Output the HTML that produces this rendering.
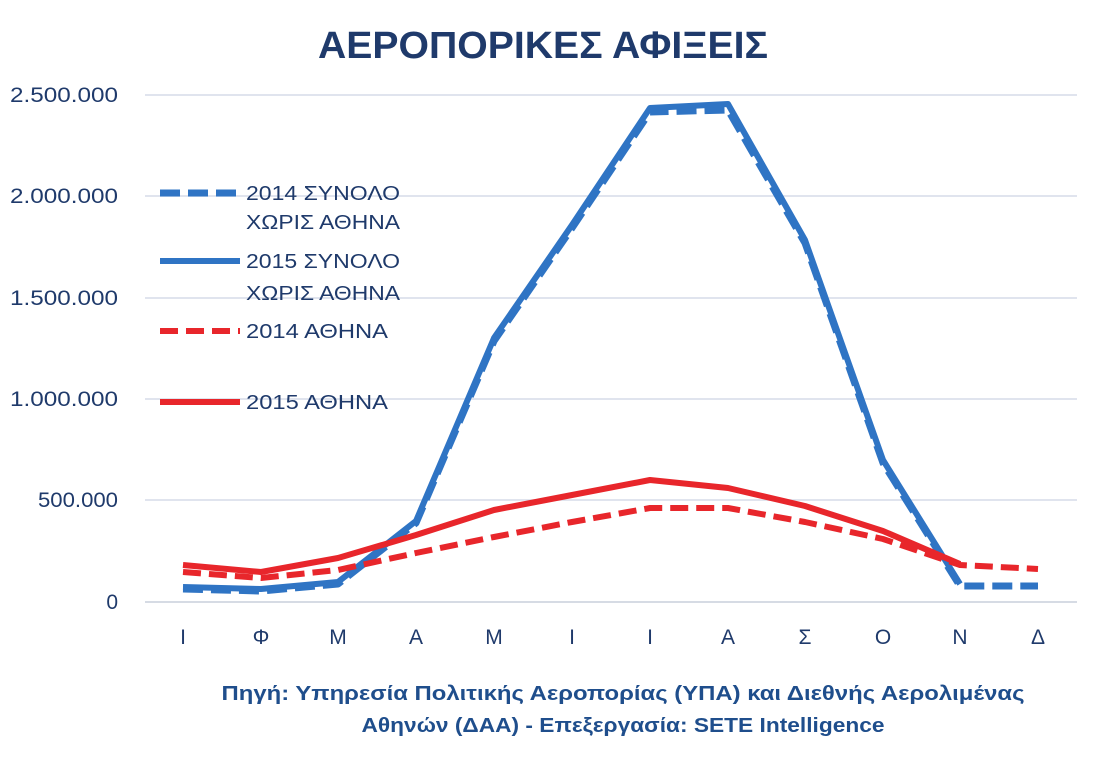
<!DOCTYPE html>
<html><head><meta charset="utf-8"><style>
body{margin:0;background:#fff;}
svg{display:block;font-family:"Liberation Sans","DejaVu Sans",sans-serif;}
</style></head><body>
<svg width="1099" height="762" viewBox="0 0 1099 762">
<rect width="1099" height="762" fill="#fff"/>
<text x="543" y="58" text-anchor="middle" font-size="38" font-weight="bold" fill="#1f3a6b" textLength="450" lengthAdjust="spacingAndGlyphs">ΑΕΡΟΠΟΡΙΚΕΣ ΑΦΙΞΕΙΣ</text>
<g stroke="#d6dce8" stroke-width="1.5">
<line x1="145" y1="95" x2="1077" y2="95"/>
<line x1="145" y1="196" x2="1077" y2="196"/>
<line x1="145" y1="298" x2="1077" y2="298"/>
<line x1="145" y1="399" x2="1077" y2="399"/>
<line x1="145" y1="500" x2="1077" y2="500"/>
<line x1="145" y1="602" x2="1077" y2="602" stroke="#c8cfdc"/>
</g>
<g font-size="21" fill="#1f3a6b" text-anchor="end">
<text x="118" y="102" textLength="108" lengthAdjust="spacingAndGlyphs">2.500.000</text>
<text x="118" y="203" textLength="108" lengthAdjust="spacingAndGlyphs">2.000.000</text>
<text x="118" y="305" textLength="108" lengthAdjust="spacingAndGlyphs">1.500.000</text>
<text x="118" y="406" textLength="108" lengthAdjust="spacingAndGlyphs">1.000.000</text>
<text x="118" y="507" textLength="80" lengthAdjust="spacingAndGlyphs">500.000</text>
<text x="118" y="609">0</text>
</g>
<g font-size="21" fill="#1f3a6b" text-anchor="middle">
<text x="183" y="644">Ι</text><text x="261" y="644">Φ</text><text x="338" y="644">Μ</text>
<text x="416" y="644">Α</text><text x="494" y="644">Μ</text><text x="572" y="644">Ι</text>
<text x="650" y="644">Ι</text><text x="728" y="644">Α</text><text x="805" y="644">Σ</text>
<text x="883" y="644">Ο</text><text x="960" y="644">Ν</text><text x="1038" y="644">Δ</text>
</g>
<g fill="none" stroke-linejoin="round">
<polyline stroke="#2f74c4" stroke-width="7" stroke-dasharray="20,8" points="183,589 261,591 338,584 416,523 494,341 572,228 650,112 728,110 805,243 883,463 960,586 1038,586"/>
<polyline stroke="#2f74c4" stroke-width="6" points="183,587 261,589 338,582 416,521 494,338 572,225 650,108 728,104 805,240 883,460 960,584"/>
<polyline stroke="#e8262b" stroke-width="6" stroke-dasharray="18,8" points="183,572 261,578 338,570 416,553 494,537 572,522 650,508 728,508 805,522 883,539 960,565 1038,569"/>
<polyline stroke="#e8262b" stroke-width="6" points="183,565 261,572 338,558 416,535 494,510 572,495 650,480 728,488 805,506 883,531 960,564"/>
</g>
<g font-size="20" fill="#1f3a6b">
<line x1="160" y1="193" x2="240" y2="193" stroke="#2f74c4" stroke-width="7" stroke-dasharray="20,8"/>
<text x="246" y="200" textLength="154" lengthAdjust="spacingAndGlyphs">2014 ΣΥΝΟΛΟ</text><text x="246" y="229" textLength="154" lengthAdjust="spacingAndGlyphs">ΧΩΡΙΣ ΑΘΗΝΑ</text>
<line x1="160" y1="261" x2="240" y2="261" stroke="#2f74c4" stroke-width="6"/>
<text x="246" y="268" textLength="154" lengthAdjust="spacingAndGlyphs">2015 ΣΥΝΟΛΟ</text><text x="246" y="300" textLength="154" lengthAdjust="spacingAndGlyphs">ΧΩΡΙΣ ΑΘΗΝΑ</text>
<line x1="160" y1="331" x2="240" y2="331" stroke="#e8262b" stroke-width="6" stroke-dasharray="18,8"/>
<text x="246" y="338" textLength="142" lengthAdjust="spacingAndGlyphs">2014 ΑΘΗΝΑ</text>
<line x1="160" y1="402" x2="240" y2="402" stroke="#e8262b" stroke-width="6"/>
<text x="246" y="409" textLength="142" lengthAdjust="spacingAndGlyphs">2015 ΑΘΗΝΑ</text>
</g>
<g font-size="20" font-weight="bold" fill="#1f4e8c" text-anchor="middle">
<text x="623" y="700" textLength="803" lengthAdjust="spacingAndGlyphs">Πηγή: Υπηρεσία Πολιτικής Αεροπορίας (ΥΠΑ)  και Διεθνής  Αερολιμένας</text>
<text x="623" y="732" textLength="523" lengthAdjust="spacingAndGlyphs">Αθηνών (ΔΑΑ) - Επεξεργασία: SETE Intelligence</text>
</g>
</svg>
</body></html>
